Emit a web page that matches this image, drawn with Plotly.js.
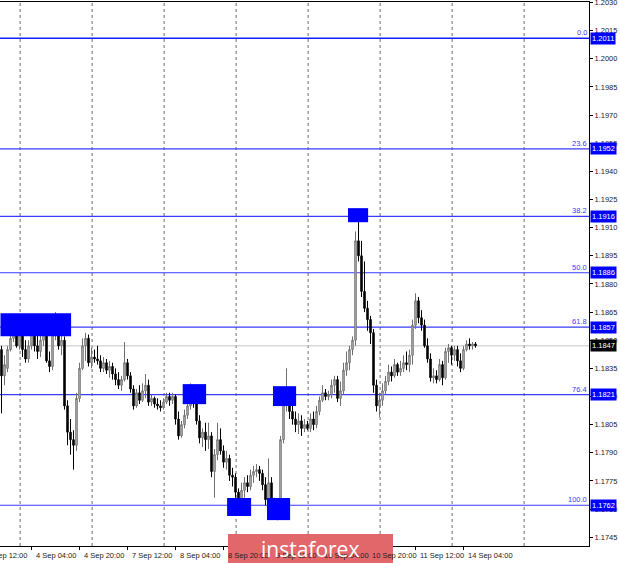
<!DOCTYPE html>
<html>
<head>
<meta charset="utf-8">
<script src="https://cdn.plot.ly/plotly-3.0.1.min.js"></script>
<style>
html,body{margin:0;padding:0;background:#fff;}
#chart{width:620px;height:563px;}
</style>
</head>
<body>
<div id="chart"></div>
<script>
// EURUSD H1 candles (3 Sep 18:00 .. 14 Sep 08:00)
const openP = [1.1845,1.1831,1.1835,1.1845,1.1851,1.1855,1.1847,1.1853,1.1845,1.1840,
1.1847,1.1856,1.1847,1.1844,1.1850,1.1853,1.1839,1.1836,1.1853,1.1860,
1.1847,1.1850,1.1815,1.1801,1.1797,1.1794,1.1819,1.1835,1.1847,1.1851,
1.1838,1.1841,1.1840,1.1839,1.1835,1.1838,1.1834,1.1836,1.1832,1.1829,
1.1826,1.1829,1.1838,1.1831,1.1824,1.1815,1.1822,1.1818,1.1823,1.1826,
1.1817,1.1819,1.1816,1.1815,1.1814,1.1817,1.1820,1.1818,1.1820,1.1808,
1.1799,1.1805,1.1810,1.1815,1.1819,1.1818,1.1807,1.1798,1.1801,1.1797,
1.1799,1.1780,1.1789,1.1797,1.1791,1.1785,1.1787,1.1778,1.1777,1.1769,
1.1762,1.1770,1.1774,1.1772,1.1778,1.1780,1.1781,1.1779,1.1773,1.1765,
1.1774,1.1762,1.1757,1.1761,1.1797,1.1818,1.1821,1.1812,1.1808,1.1805,
1.1807,1.1803,1.1805,1.1803,1.1808,1.1805,1.1812,1.1818,1.1822,1.1820,
1.1821,1.1826,1.1829,1.1819,1.1823,1.1834,1.1838,1.1845,1.1850,1.1903,
1.1895,1.1876,1.1867,1.1861,1.1854,1.1826,1.1815,1.1818,1.1823,1.1828,
1.1833,1.1831,1.1837,1.1833,1.1835,1.1838,1.1837,1.1842,1.1858,1.1871,
1.1862,1.1858,1.1847,1.1840,1.1830,1.1831,1.1829,1.1837,1.1830,1.1844,
1.1846,1.1842,1.1845,1.1839,1.1835,1.1845,1.1848,1.1847,1.1848];
const highP = [1.1847,1.1842,1.1847,1.1855,1.1864,1.1861,1.1858,1.1855,1.1850,1.1850,
1.1860,1.1858,1.1853,1.1853,1.1857,1.1855,1.1844,1.1855,1.1865,1.1862,
1.1855,1.1852,1.1818,1.1808,1.1802,1.1822,1.1838,1.1851,1.1854,1.1853,
1.1846,1.1845,1.1847,1.1842,1.1841,1.1840,1.1839,1.1838,1.1835,1.1833,
1.1831,1.1849,1.1840,1.1833,1.1826,1.1824,1.1826,1.1827,1.1832,1.1829,
1.1821,1.1820,1.1819,1.1818,1.1819,1.1822,1.1822,1.1822,1.1821,1.1812,
1.1807,1.1813,1.1818,1.1827,1.1824,1.1820,1.1810,1.1803,1.1806,1.1806,
1.1801,1.1792,1.1806,1.1803,1.1794,1.1791,1.1789,1.1782,1.1779,1.1771,
1.1774,1.1777,1.1778,1.1781,1.1783,1.1784,1.1783,1.1781,1.1777,1.1787,
1.1777,1.1766,1.1765,1.1799,1.1820,1.1835,1.1823,1.1815,1.1812,1.1811,
1.1810,1.1808,1.1807,1.1811,1.1812,1.1815,1.1820,1.1826,1.1824,1.1823,
1.1829,1.1831,1.1831,1.1828,1.1838,1.1844,1.1847,1.1852,1.1908,1.1917,
1.1903,1.1892,1.1871,1.1863,1.1856,1.1829,1.1822,1.1827,1.1831,1.1837,
1.1836,1.1840,1.1838,1.1839,1.1842,1.1844,1.1845,1.1861,1.1875,1.1873,
1.1866,1.1861,1.1851,1.1843,1.1835,1.1834,1.1840,1.1839,1.1846,1.1848,
1.1847,1.1847,1.1847,1.1843,1.1847,1.1850,1.1851,1.1849,1.1849];
const lowP = [1.1811,1.1826,1.1833,1.1844,1.1849,1.1846,1.1845,1.1841,1.1838,1.1838,
1.1845,1.1844,1.1840,1.1841,1.1847,1.1838,1.1833,1.1834,1.1850,1.1845,
1.1842,1.1813,1.1794,1.1789,1.1781,1.1791,1.1817,1.1834,1.1839,1.1836,
1.1835,1.1838,1.1837,1.1833,1.1833,1.1832,1.1830,1.1829,1.1826,1.1824,
1.1823,1.1828,1.1829,1.1822,1.1813,1.1814,1.1816,1.1817,1.1819,1.1815,
1.1815,1.1814,1.1813,1.1812,1.1813,1.1816,1.1815,1.1816,1.1805,1.1797,
1.1798,1.1803,1.1808,1.1813,1.1814,1.1805,1.1795,1.1793,1.1791,1.1792,
1.1777,1.1766,1.1786,1.1789,1.1782,1.1781,1.1775,1.1772,1.1766,1.1757,
1.1759,1.1766,1.1769,1.1770,1.1774,1.1777,1.1775,1.1770,1.1762,1.1762,
1.1759,1.1755,1.1754,1.1758,1.1795,1.1812,1.1808,1.1805,1.1801,1.1800,
1.1799,1.1801,1.1802,1.1801,1.1802,1.1803,1.1810,1.1817,1.1818,1.1818,
1.1819,1.1822,1.1817,1.1815,1.1821,1.1831,1.1834,1.1842,1.1847,1.1892,
1.1873,1.1865,1.1855,1.1848,1.1822,1.1812,1.1809,1.1815,1.1821,1.1826,
1.1828,1.1830,1.1831,1.1831,1.1833,1.1834,1.1833,1.1837,1.1856,1.1859,
1.1855,1.1846,1.1838,1.1828,1.1827,1.1827,1.1828,1.1826,1.1829,1.1838,
1.1837,1.1839,1.1836,1.1833,1.1834,1.1844,1.1845,1.1845,1.1846];
const closeP = [1.1831,1.1837,1.1845,1.1851,1.1855,1.1847,1.1853,1.1845,1.1840,1.1847,
1.1856,1.1847,1.1844,1.1850,1.1853,1.1839,1.1836,1.1853,1.1860,1.1847,
1.1850,1.1815,1.1801,1.1797,1.1794,1.1819,1.1835,1.1847,1.1851,1.1838,
1.1841,1.1840,1.1839,1.1835,1.1838,1.1834,1.1836,1.1832,1.1829,1.1826,
1.1829,1.1838,1.1831,1.1824,1.1815,1.1822,1.1818,1.1823,1.1826,1.1817,
1.1819,1.1816,1.1815,1.1814,1.1817,1.1820,1.1818,1.1820,1.1808,1.1799,
1.1805,1.1810,1.1815,1.1819,1.1818,1.1807,1.1798,1.1801,1.1797,1.1799,
1.1780,1.1789,1.1797,1.1791,1.1785,1.1787,1.1778,1.1777,1.1769,1.1762,
1.1770,1.1774,1.1772,1.1778,1.1780,1.1781,1.1779,1.1773,1.1765,1.1774,
1.1762,1.1757,1.1761,1.1797,1.1818,1.1821,1.1812,1.1808,1.1805,1.1807,
1.1803,1.1805,1.1803,1.1808,1.1805,1.1812,1.1818,1.1822,1.1820,1.1821,
1.1826,1.1829,1.1819,1.1823,1.1834,1.1838,1.1845,1.1850,1.1903,1.1895,
1.1876,1.1867,1.1861,1.1854,1.1826,1.1815,1.1818,1.1823,1.1828,1.1833,
1.1831,1.1837,1.1833,1.1835,1.1838,1.1837,1.1842,1.1858,1.1871,1.1862,
1.1858,1.1847,1.1840,1.1830,1.1831,1.1829,1.1837,1.1830,1.1844,1.1846,
1.1842,1.1845,1.1839,1.1835,1.1845,1.1848,1.1847,1.1848,1.1847];

// Fibonacci grid
const fibLevels = ['0.0','23.6','38.2','50.0','61.8','76.4','100.0'];
const fibPrices = [1.2011, 1.1952, 1.1916, 1.1886, 1.1857, 1.1821, 1.1762];
const lastPrice = 1.1847;

// Price-axis ticks
const yTicks = [1.1745,1.1760,1.1775,1.1790,1.1805,1.1820,1.1835,1.1850,1.1865,1.1880,
1.1895,1.1910,1.1925,1.1940,1.1955,1.1970,1.1985,1.2000,1.2015,1.2030];

// Time-axis labels (bar positions)
const xTickText = ['3 Sep 12:00','4 Sep 04:00','4 Sep 20:00','7 Sep 12:00','8 Sep 04:00','8 Sep 20:00',
'9 Sep 12:00','10 Sep 04:00','10 Sep 20:00','11 Sep 12:00','14 Sep 04:00'];
const xTickPos = [-6,10,26,42,58,74,90,106,122,138,154];

// Highlighted zones: [bar from, bar to, price low, price high]
const zones = [
  [-0.33, 23.2, 1.18521, 1.18644],
  [60.4, 68.2, 1.18159, 1.18266],
  [75.2, 83.2, 1.17563, 1.17659],
  [88.5, 96.2, 1.17541, 1.17659],
  [90.5, 98.2, 1.18149, 1.18255],
  [115.5, 122.2, 1.19129, 1.19204]
];

// hourly bar times (weekends skipped)
const times = [];
(function(){
  let t = Date.UTC(2020, 8, 3, 18);
  while (times.length < openP.length) {
    const d = new Date(t);
    const wd = d.getUTCDay();
    if (wd !== 0 && wd !== 6) {
      const hh = String(d.getUTCHours()).padStart(2,'0');
      times.push(d.getUTCDate() + ' Sep ' + hh + ':00');
    }
    t += 3600000;
  }
})();

const xMin = -0.5, xMax = 195.83;
const plotW = 589;
const pxPerBar = plotW / (xMax - xMin);
const firstMidnight = times.findIndex(s => s.endsWith(' 00:00'));
const separators = [];
for (let k = firstMidnight; k < xMax; k += 24) separators.push(k);

const shapes = [];
separators.forEach(k => shapes.push({type:'line', xref:'x', yref:'paper', x0:k+0.2, x1:k+0.2, y0:0, y1:1,
  line:{color:'#6a6a6a', width:1, dash:'dot'}, layer:'below'}));
fibPrices.forEach((p, i) => shapes.push({type:'line', xref:'paper', yref:'y', x0:0, x1:1, y0:p, y1:p,
  line:{color: i===0 ? '#1a1aff' : '#3a3aff', width: i===0 ? 1.6 : 1.1}, layer:'below'}));
shapes.push({type:'line', xref:'paper', yref:'y', x0:0, x1:1, y0:lastPrice, y1:lastPrice,
  line:{color:'#c4c4c4', width:1}, layer:'below'});
zones.forEach(z => shapes.push({type:'rect', xref:'x', yref:'y', x0:z[0], x1:z[1], y0:z[2], y1:z[3],
  fillcolor:'#0000ff', line:{width:0}, layer:'above'}));
// logo plate
shapes.push({type:'rect', xref:'paper', yref:'paper', x0:228/589, x1:393/589, y0:-0.05, y1:12/544,
  fillcolor:'#e2676b', line:{width:0}, layer:'above'});

const annotations = [];
const small = {family:'Liberation Sans, Arial, sans-serif', size:7.5};
fibLevels.forEach((lv, i) => {
  annotations.push({xref:'paper', yref:'y', x:1, xshift:-1, y:fibPrices[i], xanchor:'right', yanchor:'bottom',
    text:lv, showarrow:false, font:Object.assign({}, small, {color:'#3a3aff'}), borderpad:0});
  annotations.push({xref:'paper', yref:'y', x:1, xshift:1, y:fibPrices[i], xanchor:'left', yanchor:'middle',
    text:fibPrices[i].toFixed(4), showarrow:false, bgcolor:'#0000ff', borderpad:1,
    font:Object.assign({}, small, {color:'#ffffff'})});
});
annotations.push({xref:'paper', yref:'y', x:1, xshift:1, y:lastPrice, xanchor:'left', yanchor:'middle',
  text:lastPrice.toFixed(4), showarrow:false, bgcolor:'#000000', borderpad:1,
  font:Object.assign({}, small, {color:'#ffffff'})});
xTickText.forEach((t, i) => {
  const pos = xTickPos[i];
  if (pos >= 0) {
    annotations.push({xref:'x', yref:'paper', x:pos, xshift:2, y:0, yshift:-3,
      xanchor:'left', yanchor:'top', text:t, showarrow:false, font:Object.assign({}, small, {color:'#222'})});
  } else {
    annotations.push({xref:'paper', yref:'paper', x:0, xshift:(pos - xMin) * pxPerBar + 2, y:0, yshift:-3,
      xanchor:'left', yanchor:'top', text:t, showarrow:false, font:Object.assign({}, small, {color:'#222'})});
  }
});
annotations.push({xref:'paper', yref:'paper', x:310/589, y:-3/544, xanchor:'center', yanchor:'middle',
  text:'instaforex', showarrow:false, font:{family:'Open Sans, Lato, sans-serif', size:21, color:'#ffffff'}});

const trace = {
  type:'candlestick', x:times, open:openP, high:highP, low:lowP, close:closeP,
  increasing:{line:{color:'#707070', width:1}, fillcolor:'#c8c8c8'},
  decreasing:{line:{color:'#000000', width:1}, fillcolor:'#000000'},
  whiskerwidth:0, hoverinfo:'skip', showlegend:false
};

const layout = {
  width:620, height:563,
  margin:{l:0, r:31, t:2, b:17},
  paper_bgcolor:'#ffffff', plot_bgcolor:'#ffffff',
  showlegend:false,
  xaxis:{type:'category', range:[xMin, xMax], showgrid:false, zeroline:false,
    showline:true, mirror:true, linecolor:'#000', linewidth:1,
    tickmode:'array', tickvals:xTickPos.filter(v=>v>=0).map(v=>times[v]), ticktext:xTickPos.filter(v=>v>=0).map(()=>''),
    ticks:'outside', ticklen:3, tickcolor:'#000', rangeslider:{visible:false}, fixedrange:true},
  yaxis:{side:'right', range:[1.17403, 1.20303], showgrid:false, zeroline:false,
    showline:true, linecolor:'#000', linewidth:1,
    tickmode:'array', tickvals:yTicks, ticktext:yTicks.map(v=>v.toFixed(4)),
    ticks:'outside', ticklen:3, tickcolor:'#000', ticklabeloverflow:'allow',
    tickfont:{family:'Liberation Sans, Arial, sans-serif', size:7.5, color:'#222'}, fixedrange:true},
  shapes:shapes, annotations:annotations
};

Plotly.newPlot('chart', [trace], layout, {displayModeBar:false, staticPlot:true});
</script>
</body>
</html>
